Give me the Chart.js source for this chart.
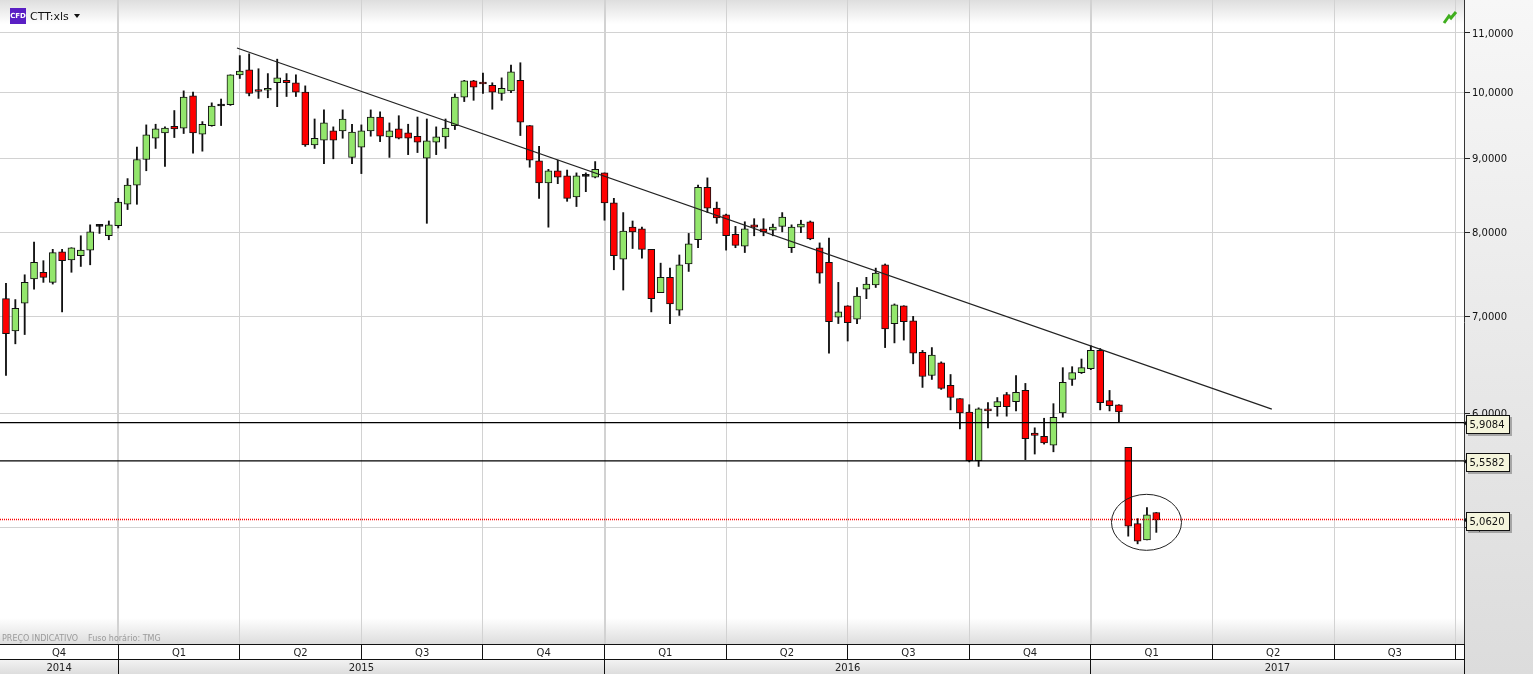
<!DOCTYPE html>
<html>
<head>
<meta charset="utf-8">
<title>CTT:xls</title>
<script src="https://cdn.jsdelivr.net/npm/chart.js@4/dist/chart.umd.min.js"></script>
<style>
html, body { margin: 0; padding: 0; background: #fff; overflow: hidden; }
canvas { display: block; }
</style>
</head>
<body>
<canvas id="chart" width="1533" height="674"></canvas>
<script>
var opens = [7.20,6.84,7.15,7.43,7.51,7.39,7.76,7.66,7.71,7.78,8.08,7.96,8.09,8.37,8.63,8.99,9.30,9.38,9.48,9.45,
    9.95,9.36,9.49,9.79,9.81,10.29,10.37,10.03,10.04,10.16,10.20,10.16,10.01,9.20,9.27,9.41,9.41,9.02,9.17,9.41,
    9.62,9.32,9.44,9.38,9.33,9.01,9.24,9.32,9.49,9.93,10.19,10.17,10.12,9.99,10.03,10.20,9.49,8.97,8.66,8.83,
    8.76,8.47,8.75,8.74,8.80,8.39,7.67,8.07,8.05,7.79,7.27,7.45,7.07,7.61,7.91,8.60,8.32,8.23,7.98,7.83,
    8.10,8.05,8.03,8.08,7.81,8.07,8.14,7.81,7.63,6.99,7.12,6.97,7.31,7.36,7.60,6.92,7.12,6.95,6.61,6.37,
    6.50,6.27,6.14,6.01,5.56,6.04,6.06,6.18,6.11,6.22,5.81,5.78,5.70,6.00,6.33,6.40,6.44,6.63,6.12,6.08,
    5.68,5.03,4.90,5.12];
var highs = [7.38,7.19,7.48,7.88,7.65,7.79,7.79,7.81,7.96,8.10,8.10,8.15,8.45,8.72,9.17,9.50,9.51,9.47,9.72,10.03,
    10.01,9.55,9.84,9.90,10.29,10.61,10.64,10.39,10.31,10.55,10.31,10.29,10.11,9.59,9.73,9.47,9.73,9.51,9.50,9.73,
    9.70,9.53,9.64,9.51,9.62,9.59,9.47,9.59,9.98,10.20,10.20,10.32,10.16,10.24,10.45,10.49,9.49,9.18,8.85,8.98,
    8.84,8.80,8.80,8.96,8.80,8.45,8.26,8.15,8.07,7.79,7.62,7.56,7.72,7.99,8.63,8.73,8.40,8.24,8.08,8.14,
    8.18,8.18,8.11,8.26,8.10,8.16,8.15,7.87,7.93,7.39,7.12,7.33,7.45,7.56,7.61,7.14,7.12,7.00,6.63,6.66,
    6.51,6.38,6.14,6.08,6.05,6.10,6.15,6.20,6.37,6.29,5.86,5.95,6.09,6.45,6.46,6.54,6.68,6.65,6.22,6.08,
    5.68,5.07,5.16,5.12];
var lows = [6.37,6.70,6.80,7.31,7.39,7.37,7.05,7.51,7.58,7.60,7.99,7.91,8.06,8.30,8.37,8.83,9.15,8.89,9.31,9.37,
    9.08,9.11,9.48,9.49,9.80,10.23,9.95,9.91,9.92,9.78,9.94,9.94,9.18,9.15,8.93,9.00,9.30,8.93,8.79,9.33,
    9.25,9.02,9.29,9.06,9.09,8.12,9.06,9.15,9.43,9.86,9.88,9.99,9.74,9.88,10.00,9.34,8.88,8.45,8.07,8.65,
    8.41,8.34,8.54,8.73,8.16,7.54,7.30,7.80,7.68,7.05,7.27,6.92,7.01,7.52,7.81,8.26,8.12,7.78,7.81,7.75,
    7.96,7.96,7.96,8.01,7.75,8.00,7.91,7.38,6.60,6.92,6.73,6.92,7.20,7.33,6.66,6.71,6.74,6.49,6.25,6.33,
    6.23,6.03,5.85,5.55,5.51,5.86,5.97,5.97,6.02,5.57,5.62,5.71,5.64,5.96,6.27,6.39,6.43,6.03,6.02,5.91,
    4.93,4.87,4.90,4.96];
var closes = [6.81,7.09,7.39,7.63,7.45,7.75,7.65,7.81,7.78,8.01,8.08,8.10,8.40,8.63,8.99,9.35,9.44,9.45,9.44,9.93,
    9.38,9.51,9.79,9.79,10.29,10.35,9.99,10.02,10.07,10.24,10.16,10.01,9.20,9.30,9.53,9.27,9.59,9.39,9.41,9.62,
    9.33,9.41,9.30,9.30,9.24,9.26,9.32,9.45,9.93,10.19,10.09,10.14,10.01,10.07,10.34,9.54,8.98,8.66,8.83,8.74,
    8.45,8.76,8.75,8.85,8.39,7.71,8.02,8.01,7.79,7.20,7.45,7.14,7.60,7.86,8.60,8.32,8.19,7.96,7.84,8.05,
    8.07,8.01,8.07,8.20,8.07,8.11,7.92,7.50,6.94,7.05,6.93,7.23,7.37,7.50,6.86,7.13,6.94,6.60,6.36,6.58,
    6.24,6.15,6.00,5.56,6.04,6.02,6.11,6.06,6.20,5.76,5.79,5.72,5.96,6.30,6.40,6.45,6.63,6.10,6.07,6.01,
    5.01,4.89,5.10,5.06];

var priceTicks = [5, 6, 7, 8, 9, 10, 11];
var levels = [5.9084, 5.5582];
var lastPrice = 5.0620;
var trendWeeks = [24.7, 135.35];
var trendPrices = [10.74, 6.037];
var circleWeek = 121.95;
var circlePrice = 5.04;

// week numbers, counted from the first candle
var quarterEdges = [12, 25, 38, 51, 64, 77, 90, 103, 116, 129, 142, 155];
var quarterLabels = ['Q4', 'Q1', 'Q2', 'Q3', 'Q4', 'Q1', 'Q2', 'Q3', 'Q4', 'Q1', 'Q2', 'Q3'];
var yearEdges = [12, 64, 116];
var yearLabels = ['2014', '2015', '2016', '2017'];

var minWeek = -0.64;
var maxWeek = 155.9;
var minPrice = 4.151;
var maxPrice = 11.594;

var font = '"DejaVu Sans", sans-serif';

var fmt = function(v) {
    return v.toFixed(4).replace('.', ',');
}

var bodies = [];
var wicks = [];
var bodyColors = [];
for (var i = 0; i < opens.length; i++) {
    bodies.push({x: i, y: [opens[i], closes[i]]});
    wicks.push({x: i, y: [lows[i], highs[i]]});
    if (closes[i] > opens[i]) bodyColors.push('#93e66c');
    else if (closes[i] < opens[i]) bodyColors.push('#ff0000');
    else bodyColors.push('#000000');
}

var flatLine = function(price) {
    return [{x: minWeek, y: price}, {x: maxWeek, y: price}];
}

var vGrad = function(ctx, y0, y1, c0, c1) {
    var g = ctx.createLinearGradient(0, y0, 0, y1);
    g.addColorStop(0, c0);
    g.addColorStop(1, c1);
    return g;
}

var panels = {
    id: 'panels',
    beforeDraw: function(chart) {
        var ctx = chart.ctx;
        var a = chart.chartArea;
        ctx.save();
        ctx.fillStyle = '#ffffff';
        ctx.fillRect(0, 0, a.right, a.bottom);
        ctx.fillStyle = vGrad(ctx, 0, 24, '#dedede', '#ffffff');
        ctx.fillRect(0, 0, a.right, 24);
        ctx.fillStyle = vGrad(ctx, a.bottom - 26, a.bottom, '#ffffff', '#dddddd');
        ctx.fillRect(0, a.bottom - 26, a.right, 26);
        ctx.fillStyle = vGrad(ctx, 0, 674, '#f7f7f7', '#dcdcdc');
        ctx.fillRect(a.right, 0, 1533 - a.right, 674);
        ctx.restore();
    }
};

var drawBands = function(chart) {
    var ctx = chart.ctx;
    var a = chart.chartArea;
    var x = chart.scales.x;
    var rowTop = a.bottom;
    var rowMid = a.bottom + 15;
    var rowEnd = 674;
    ctx.save();
    ctx.fillStyle = '#ffffff';
    ctx.fillRect(0, rowTop, a.right, 15);
    ctx.fillStyle = vGrad(ctx, rowMid, rowEnd, '#f4f4f4', '#dddddd');
    ctx.fillRect(0, rowMid, a.right, rowEnd - rowMid);

    ctx.strokeStyle = '#111111';
    ctx.lineWidth = 1;
    ctx.beginPath();
    ctx.moveTo(0, rowTop + 0.5);
    ctx.lineTo(a.right, rowTop + 0.5);
    ctx.moveTo(0, rowMid + 0.5);
    ctx.lineTo(a.right, rowMid + 0.5);
    quarterEdges.forEach(function(w) {
        var px = Math.floor(x.getPixelForValue(w)) + 0.5;
        ctx.moveTo(px, rowTop);
        ctx.lineTo(px, rowMid);
    });
    yearEdges.forEach(function(w) {
        var px = Math.floor(x.getPixelForValue(w)) + 0.5;
        ctx.moveTo(px, rowMid);
        ctx.lineTo(px, rowEnd);
    });
    ctx.moveTo(a.right + 0.5, 644);
    ctx.lineTo(a.right + 0.5, rowEnd);
    ctx.stroke();

    ctx.fillStyle = '#222222';
    ctx.font = '10px ' + font;
    ctx.textAlign = 'center';
    ctx.textBaseline = 'middle';
    quarterLabels.forEach(function(q, i) {
        var from = i == 0 ? minWeek : quarterEdges[i - 1];
        ctx.fillText(q, x.getPixelForValue((from + quarterEdges[i]) / 2), rowTop + 9);
    });
    yearLabels.forEach(function(y, i) {
        var from = i == 0 ? minWeek : yearEdges[i - 1];
        var to = i < yearEdges.length ? yearEdges[i] : maxWeek;
        ctx.fillText(y, x.getPixelForValue((from + to) / 2), rowMid + 9);
    });

    ctx.textAlign = 'left';
    ctx.fillStyle = '#9a9a9a';
    ctx.font = '8px ' + font;
    ctx.fillText('PREÇO INDICATIVO', 2, 639);
    ctx.fillText('Fuso horário: TMG', 88, 639);
    ctx.restore();
}

var drawTag = function(chart, price) {
    var ctx = chart.ctx;
    var a = chart.chartArea;
    var y = chart.scales.y.getPixelForValue(price);
    var top = Math.round(y) - 8;
    ctx.save();
    ctx.fillStyle = 'rgba(90,90,90,0.45)';
    ctx.fillRect(a.right + 4, top + 2, 44, 19);
    ctx.fillStyle = '#f5f5dc';
    ctx.strokeStyle = '#111111';
    ctx.lineWidth = 1;
    ctx.fillRect(a.right + 2.5, top + 0.5, 43, 18);
    ctx.strokeRect(a.right + 2.5, top + 0.5, 43, 18);
    ctx.fillStyle = '#111111';
    ctx.beginPath();
    ctx.moveTo(a.right - 0.5, y + 0.5);
    ctx.lineTo(a.right + 2.5, y - 2);
    ctx.lineTo(a.right + 2.5, y + 3);
    ctx.fill();
    ctx.font = '10px ' + font;
    ctx.textAlign = 'left';
    ctx.textBaseline = 'middle';
    ctx.fillText(fmt(price), a.right + 5.5, top + 10);
    ctx.restore();
}

var overlay = {
    id: 'overlay',
    afterDatasetsDraw: function(chart) {
        var ctx = chart.ctx;
        var cx = chart.scales.x.getPixelForValue(circleWeek);
        var cy = chart.scales.y.getPixelForValue(circlePrice);
        ctx.save();
        ctx.strokeStyle = '#222222';
        ctx.lineWidth = 1;
        ctx.beginPath();
        ctx.ellipse(cx, cy, 35, 28, 0, 0, Math.PI * 2);
        ctx.stroke();
        ctx.restore();
    },
    afterDraw: function(chart) {
        var ctx = chart.ctx;
        drawBands(chart);

        // top left instrument name
        ctx.save();
        ctx.fillStyle = '#5a1fc4';
        ctx.fillRect(10, 8, 16, 16);
        ctx.fillStyle = '#ffffff';
        ctx.font = 'bold 7px ' + font;
        ctx.textAlign = 'center';
        ctx.textBaseline = 'middle';
        ctx.fillText('CFD', 18, 16);
        ctx.fillStyle = '#111111';
        ctx.font = '11px ' + font;
        ctx.textAlign = 'left';
        ctx.fillText('CTT:xls', 30, 17);
        ctx.beginPath();
        ctx.moveTo(74, 14);
        ctx.lineTo(80, 14);
        ctx.lineTo(77, 18);
        ctx.fill();

        // connection arrow, top right
        ctx.strokeStyle = '#3fae1e';
        ctx.lineWidth = 3;
        ctx.beginPath();
        ctx.moveTo(1444, 23);
        ctx.lineTo(1449, 16);
        ctx.lineTo(1451, 18);
        ctx.lineTo(1456, 12);
        ctx.stroke();
        ctx.restore();

        levels.forEach(function(p) { drawTag(chart, p); });
        drawTag(chart, lastPrice);
    }
};

window.onload = function() {
    var ctx = document.getElementById('chart').getContext('2d');
    var config = {
        type: 'bar',
        data: {
            datasets: [
                {type: 'line', data: trendWeeks.map(function(w, i) { return {x: w, y: trendPrices[i]}; }),
                    borderColor: '#222222', borderWidth: 1.2, pointRadius: 0, order: 0},
                {type: 'line', data: flatLine(levels[0]), borderColor: '#000000', borderWidth: 1.3, pointRadius: 0, order: 0},
                {type: 'line', data: flatLine(levels[1]), borderColor: '#000000', borderWidth: 1.3, pointRadius: 0, order: 0},
                {type: 'line', data: flatLine(lastPrice), borderColor: '#ff0000', borderWidth: 1.5, borderDash: [1, 1], pointRadius: 0, order: 0},
                {data: bodies, backgroundColor: bodyColors, borderColor: '#111111', borderWidth: 1, borderSkipped: false,
                    barThickness: 7, minBarLength: 2, grouped: false, order: 1},
                {data: wicks, backgroundColor: '#111111', borderWidth: 0, barThickness: 1.2, grouped: false, order: 2}
            ]
        },
        options: {
            responsive: false,
            animation: false,
            devicePixelRatio: 1,
            layout: {padding: {left: 0, top: 0, right: 0, bottom: 30}},
            plugins: {legend: {display: false}, tooltip: {enabled: false}},
            scales: {
                x: {
                    type: 'linear',
                    offset: false,
                    min: minWeek,
                    max: maxWeek,
                    afterFit: function(s) { s.height = 0; s.paddingLeft = 0; s.paddingRight = 0; },
                    afterBuildTicks: function(s) {
                        s.ticks = quarterEdges.map(function(w) { return {value: w}; });
                    },
                    ticks: {display: false, autoSkip: false},
                    border: {display: false},
                    grid: {
                        offset: false,
                        drawTicks: false,
                        color: '#d2d2d2',
                        lineWidth: function(c) {
                            return c.tick && yearEdges.indexOf(c.tick.value) >= 0 ? 2 : 1;
                        }
                    }
                },
                y: {
                    type: 'logarithmic',
                    position: 'right',
                    min: minPrice,
                    max: maxPrice,
                    afterFit: function(s) { s.width = 69; s.paddingTop = 0; s.paddingBottom = 0; },
                    afterBuildTicks: function(s) {
                        s.ticks = priceTicks.map(function(p) { return {value: p}; });
                    },
                    ticks: {
                        autoSkip: false,
                        color: '#111111',
                        padding: 2,
                        labelOffset: 1,
                        font: {family: font, size: 10},
                        callback: function(v) { return fmt(v); }
                    },
                    border: {color: '#333333', width: 1},
                    grid: {color: '#d2d2d2', lineWidth: 1, tickColor: '#222222', tickLength: 6}
                }
            }
        },
        plugins: [panels, overlay]
    };
    new Chart(ctx, config);
};
</script>
</body>
</html>
